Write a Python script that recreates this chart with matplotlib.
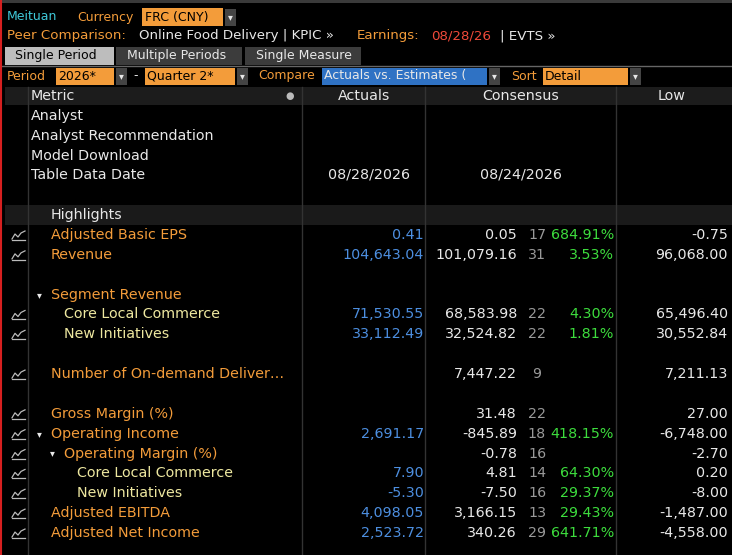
import matplotlib.pyplot as plt
from matplotlib.patches import Rectangle

# Table data
labels = ["Adjusted Basic EPS", "Revenue", "", "Segment Revenue", "Core Local Commerce", "New Initiatives", "",
          "Number of On-demand Deliver…", "", "Gross Margin (%)", "Operating Income", "Operating Margin (%)",
          "Core Local Commerce", "New Initiatives", "Adjusted EBITDA", "Adjusted Net Income"]
levels = [0, 0, 0, 0, 1, 1, 0, 0, 0, 0, 0, 1, 2, 2, 0, 0]
arrows = [False, False, False, True, False, False, False, False, False, False, True, True, False, False, False, False]
actuals = ["0.41", "104,643.04", "", "", "71,530.55", "33,112.49", "", "", "", "", "2,691.17", "",
           "7.90", "-5.30", "4,098.05", "2,523.72"]
consensus = ["0.05", "101,079.16", "", "", "68,583.98", "32,524.82", "", "7,447.22", "", "31.48", "-845.89",
             "-0.78", "4.81", "-7.50", "3,166.15", "340.26"]
counts = ["17", "31", "", "", "22", "22", "", "9", "", "22", "18", "16", "14", "16", "13", "29"]
surprise = ["684.91%", "3.53%", "", "", "4.30%", "1.81%", "", "", "", "", "418.15%", "", "64.30%", "29.37%",
            "29.43%", "641.71%"]
lows = ["-0.75", "96,068.00", "", "", "65,496.40", "30,552.84", "", "7,211.13", "", "27.00", "-6,748.00",
        "-2.70", "0.20", "-8.00", "-1,487.00", "-4,558.00"]
info_rows = ["Analyst", "Analyst Recommendation", "Model Download", "Table Data Date"]

ORANGE = "#f39c3a"
YELLOW = "#eee8a0"
WHITE = "#e8e8e8"
BLUE = "#4d8fe0"
GREEN = "#3ddc3d"
FONT = "DejaVu Sans"
HS = 9.0  # header text size

fig = plt.figure(figsize=(7.32, 5.55), dpi=100, facecolor="black")
ax = fig.add_axes([0, 0, 1, 1])
ax.set_xlim(0, 732)
ax.set_ylim(555, 0)
ax.axis("off")

def txt(x, y, s, c=WHITE, ha="left", size=10.3):
    ax.text(x, y, s, color=c, ha=ha, va="center", fontsize=size, family=FONT)

def box(x, y, w, h, c):
    ax.add_patch(Rectangle((x, y), w, h, color=c, lw=0))

def drop(x, y):
    box(x, y - 8.5, 11, 17, "#444")
    txt(x + 5.5, y, "▾", WHITE, ha="center", size=7)

# top strip
box(0, 0, 732, 3, "#3a3a3a")
txt(7, 17, "Meituan", "#3fc8d8", size=HS)
txt(77, 17, "Currency", ORANGE, size=HS)
box(142, 8, 81, 18, ORANGE)
txt(145, 17, "FRC (CNY)", "black", size=HS)
drop(225, 17)
txt(7, 36, "Peer Comparison:", ORANGE, size=9.6)
txt(139, 36, "Online Food Delivery | KPIC »", WHITE, size=9.6)
txt(357, 36, "Earnings:", ORANGE, size=9.6)
txt(431, 36, "08/28/26", "#f04a3a", size=9.6)
txt(500, 36, "| EVTS »", WHITE, size=9.6)

# tabs
box(5, 47, 109, 18, "#bdbdbd")
txt(15, 56, "Single Period", "black", size=HS)
box(116, 47, 126, 18, "#3c3c3c")
txt(127, 56, "Multiple Periods", WHITE, size=HS)
box(245, 47, 116, 18, "#3c3c3c")
txt(256, 56, "Single Measure", WHITE, size=HS)
ax.plot([0, 732], [65.5, 65.5], color="#666", lw=1)

# controls row
txt(7, 76, "Period", ORANGE, size=HS)
box(56, 68, 58, 17, ORANGE)
txt(58, 76, "2026*", "black", size=HS)
drop(116, 76)
txt(133, 76, "-", WHITE, size=HS)
box(145, 68, 90, 17, ORANGE)
txt(147, 76, "Quarter 2*", "black", size=HS)
drop(237, 76)
txt(258, 76, "Compare", ORANGE, size=HS)
box(322, 68, 165, 17, "#2f72c4")
txt(324, 76, "Actuals vs. Estimates (", WHITE, size=HS)
drop(489, 76)
txt(511, 76, "Sort", ORANGE, size=HS)
box(543, 68, 85, 17, ORANGE)
txt(545, 76, "Detail", "black", size=HS)
drop(630, 76)

# header row
box(5, 87, 727, 18, "#1c1c1c")
txt(31, 96, "Metric")
txt(290, 96, "●", "#bbb", ha="center", size=7)
txt(364, 96, "Actuals", ha="center")
txt(521, 96, "Consensus", ha="center")
txt(672, 96, "Low", ha="center")

# highlights band
box(5, 205, 727, 20, "#1a1a1a")
txt(51, 215, "Highlights", WHITE)

# grid lines
for x in [28, 302, 425, 616]:
    ax.plot([x, x], [87, 555], color="#333", lw=1)
ax.plot([0.8, 0.8], [0, 555], color="#d62020", lw=1.5)

# info rows
for i, s in enumerate(info_rows):
    txt(31, 116 + i * 19.8, s)
txt(369, 175, "08/28/2026", ha="center")
txt(521, 175, "08/24/2026", ha="center")

def icon(y):
    ax.plot([12, 15, 18, 21, 25], [y + 4, y - 1, y + 2, y - 2, y - 4], color="#bbb", lw=0.9)
    ax.plot([12, 25], [y + 5, y + 5], color="#bbb", lw=0.9)

y0, dy = 235, 19.87
for i, lab in enumerate(labels):
    y = y0 + i * dy
    if not lab:
        continue
    if lab != "Segment Revenue":
        icon(y)
    yellow = levels[i] == 2 or (levels[i] == 1 and not arrows[i])
    indent = 51 + levels[i] * 13
    if arrows[i]:
        txt(indent - 14, y, "▾", WHITE, size=7)
    txt(indent, y, lab, YELLOW if yellow else ORANGE)
    txt(424, y, actuals[i], BLUE, ha="right")
    txt(517, y, consensus[i], ha="right")
    txt(537, y, counts[i], "#999", ha="center")
    txt(614, y, surprise[i], GREEN, ha="right")
    txt(728, y, lows[i], ha="right")

fig.savefig("out.png", dpi=100, facecolor="black")
